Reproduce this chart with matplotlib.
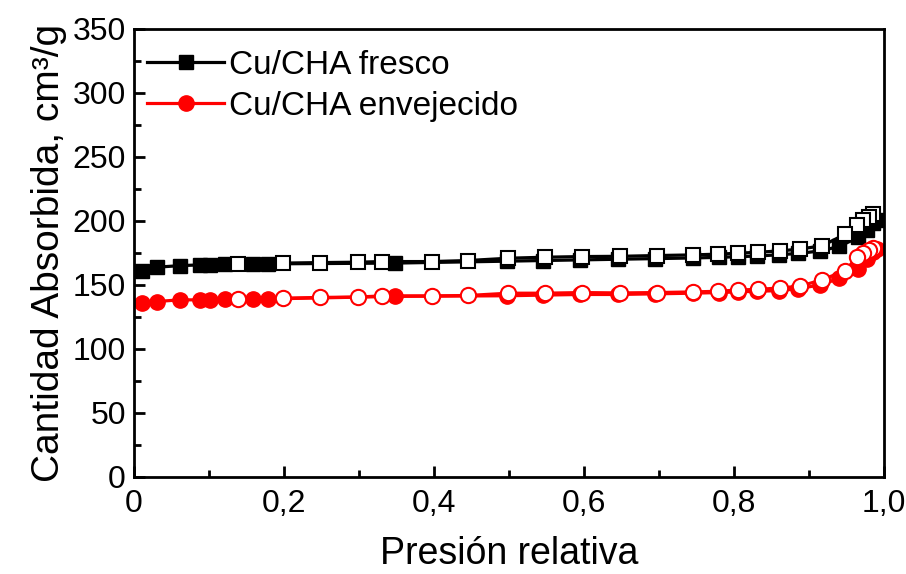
import matplotlib
matplotlib.use("Agg")
import matplotlib.pyplot as plt
from matplotlib.ticker import AutoMinorLocator

plt.rcParams['font.family'] = ['Liberation Sans', 'DejaVu Sans']

# adsorption branch (filled) and desorption branch (open), relative pressure
x_ads = [0.010, 0.030, 0.061, 0.088, 0.101, 0.121, 0.159, 0.179, 0.348, 0.497, 0.545,
         0.595, 0.645, 0.695, 0.745, 0.780, 0.805, 0.830, 0.860, 0.885, 0.915, 0.940,
         0.965, 0.977, 0.985, 0.990]
x_des = [0.985, 0.979, 0.972, 0.964, 0.948, 0.917, 0.888, 0.861, 0.832, 0.805, 0.779,
         0.745, 0.697, 0.648, 0.597, 0.548, 0.499, 0.445, 0.397, 0.330, 0.299, 0.248,
         0.199, 0.139]

fresco_ads = [160.5, 163.8, 165.0, 165.6, 165.6, 166.1, 166.4, 166.4, 167.0, 168.5, 169.0,
              169.5, 170.0, 170.5, 171.0, 171.5, 172.0, 172.5, 173.5, 174.5, 176.5, 180.0,
              187.0, 193.0, 198.0, 201.0]
fresco_des = [205.0, 203.0, 200.5, 196.5, 189.5, 180.5, 178.0, 176.5, 175.5, 174.7, 174.0,
              173.4, 172.9, 172.3, 172.1, 171.6, 170.8, 169.0, 168.2, 168.2, 167.7, 167.4,
              167.0, 166.4]

envej_ads = [135.5, 137.0, 138.3, 138.3, 138.5, 139.0, 139.0, 139.0, 141.0, 141.5, 142.0,
             142.5, 142.5, 143.0, 143.5, 144.0, 144.5, 145.0, 145.5, 147.0, 150.0, 155.0,
             162.0, 170.0, 176.0, 178.0]
envej_des = [179.0, 177.0, 175.0, 172.0, 161.0, 154.0, 149.0, 147.6, 146.5, 146.0, 145.0,
             144.5, 144.0, 143.7, 144.0, 143.5, 143.5, 141.7, 141.4, 141.4, 140.5, 140.2,
             139.6, 139.0]

xticks = [0, 0.2, 0.4, 0.6, 0.8, 1.0]
xticklabels = ["0", "0,2", "0,4", "0,6", "0,8", "1,0"]
yticks = [0, 50, 100, 150, 200, 250, 300, 350]

fig = plt.figure(figsize=(9.06, 5.74), dpi=100)
ax = fig.add_axes([0.148, 0.169, 0.828, 0.781])

# fresco
ax.plot(x_ads, fresco_ads, '-s', color='black', lw=2.3, ms=10, mfc='black', mec='black',
        label='Cu/CHA fresco')
ax.plot(x_des, fresco_des, '-s', color='black', lw=2.3, ms=10, mfc='white', mec='black', mew=1.5)
# envejecido
ax.plot(x_ads, envej_ads, '-o', color='red', lw=2.3, ms=11, mfc='red', mec='red',
        label='Cu/CHA envejecido')
ax.plot(x_des, envej_des, '-o', color='red', lw=2.3, ms=11, mfc='white', mec='red', mew=1.5)

ax.set_xlim(0, 1.0)
ax.set_ylim(0, 350)
ax.set_xticks(xticks)
ax.set_xticklabels(xticklabels)
ax.set_yticks(yticks)
ax.xaxis.set_minor_locator(AutoMinorLocator(2))
ax.yaxis.set_minor_locator(AutoMinorLocator(2))
ax.tick_params(which='both', direction='in', width=2, labelsize=23,
               top=False, right=False)
ax.tick_params(axis='x', pad=9)
ax.tick_params(axis='y', pad=6)
ax.tick_params(which='major', length=8)
ax.tick_params(which='minor', length=5)
for sp in ax.spines.values():
    sp.set_linewidth(2)

ax.set_xlabel('Presión relativa', fontsize=27, labelpad=12)
ax.set_ylabel('Cantidad Absorbida, cm³/g', fontsize=28, labelpad=4)

leg = ax.legend(loc='upper left', frameon=False, fontsize=24, handlelength=2.3,
                handletextpad=0.15, borderaxespad=0.0, labelspacing=0.3,
                bbox_to_anchor=(0.0, 0.982))

fig.savefig('out.png', dpi=100)
